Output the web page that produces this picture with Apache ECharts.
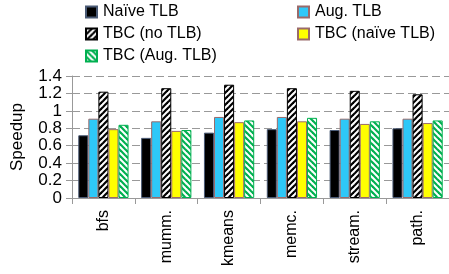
<!DOCTYPE html>
<html>
<head>
<meta charset="utf-8">
<script src="https://cdn.jsdelivr.net/npm/echarts@6/dist/echarts.min.js"></script>
<style>
html, body { margin: 0; padding: 0; background: #fff; }
#chart { width: 449px; height: 274px; }
</style>
</head>
<body>
<div id="chart"></div>
<script>
var categories = ['bfs', 'mumm.', 'kmeans', 'memc.', 'stream.', 'path.'];
var naiveTlb = [0.72, 0.69, 0.75, 0.79, 0.78, 0.80];
var augTlb = [0.91, 0.88, 0.93, 0.93, 0.91, 0.91];
var tbcNoTlb = [1.22, 1.26, 1.30, 1.26, 1.23, 1.19];
var tbcNaiveTlb = [0.79, 0.77, 0.87, 0.88, 0.85, 0.86];
var tbcAugTlb = [0.84, 0.78, 0.89, 0.92, 0.88, 0.89];
var yTicks = ['0', '0.2', '0.4', '0.6', '0.8', '1', '1.2', '1.4'];

// striped fill, dir 1 = "/" , dir -1 = "\"
function stripes(col, dir) {
    var c = document.createElement('canvas');
    c.width = 6; c.height = 6;
    var g = c.getContext('2d');
    g.fillStyle = '#fff';
    g.fillRect(0, 0, 6, 6);
    g.strokeStyle = col;
    g.lineWidth = 2.2;
    for (var k = -1; k <= 1; k++) {
        g.beginPath();
        if (dir > 0) {
            g.moveTo(k * 6 - 1, 7); g.lineTo(k * 6 + 7, -1);
        } else {
            g.moveTo(k * 6 - 1, -1); g.lineTo(k * 6 + 7, 7);
        }
        g.stroke();
    }
    return {image: c, repeat: 'repeat'};
}

var font = 'Liberation Sans, Arial, sans-serif';
var myChart = echarts.init(document.getElementById('chart'));

function bar(name, data, color, border) {
    return {
        name: name, type: 'bar', data: data,
        barGap: '0%', barCategoryGap: '20%',
        itemStyle: {color: color, borderColor: border, borderWidth: 1}
    };
}

var legendBase = {
    top: 4, orient: 'vertical', itemGap: 6, padding: 0,
    icon: 'rect', itemWidth: 11, itemHeight: 11,
    textStyle: {fontSize: 16, color: '#000', fontFamily: font, padding: [0, 0, 0, 1]}
};

var option = {
    backgroundColor: '#fff',
    animation: false,
    textStyle: {fontFamily: font},
    legend: [
        Object.assign({left: 85, data: ['Naïve TLB', 'TBC (no TLB)', 'TBC (Aug. TLB)']}, legendBase),
        Object.assign({left: 297, data: ['Aug. TLB', 'TBC (naïve TLB)']}, legendBase)
    ],
    grid: {left: 72, top: 76, width: 379, height: 122, containLabel: false},
    xAxis: {
        type: 'category',
        data: categories,
        axisLine: {lineStyle: {color: '#999'}},
        axisTick: {show: true, length: 6, lineStyle: {color: '#999'}},
        axisLabel: {rotate: 90, fontSize: 16, color: '#000', margin: 12, fontFamily: font}
    },
    yAxis: {
        type: 'value',
        min: 0, max: 1.4, interval: 0.2,
        name: 'Speedup',
        nameLocation: 'middle',
        nameGap: 46,
        nameTextStyle: {fontSize: 17, color: '#000', fontFamily: font},
        axisLine: {show: true, lineStyle: {color: '#999'}},
        axisTick: {show: true, length: 6, lineStyle: {color: '#999'}},
        axisLabel: {
            fontSize: 17, color: '#000', margin: 10, fontFamily: font,
            formatter: function (v) { return yTicks[Math.round(v / 0.2)]; }
        },
        splitLine: {lineStyle: {color: '#999', type: [8, 4], width: 1}}
    },
    series: [
        bar('Naïve TLB', naiveTlb, '#000', '#4a5a75'),
        bar('Aug. TLB', augTlb, '#2ec8f8', '#9a6a6a'),
        bar('TBC (no TLB)', tbcNoTlb, stripes('#000', 1), '#000'),
        bar('TBC (naïve TLB)', tbcNaiveTlb, '#ffff00', '#9a6a6a'),
        bar('TBC (Aug. TLB)', tbcAugTlb, stripes('#00b050', -1), '#00b050')
    ]
};

myChart.setOption(option);
</script>
</body>
</html>
